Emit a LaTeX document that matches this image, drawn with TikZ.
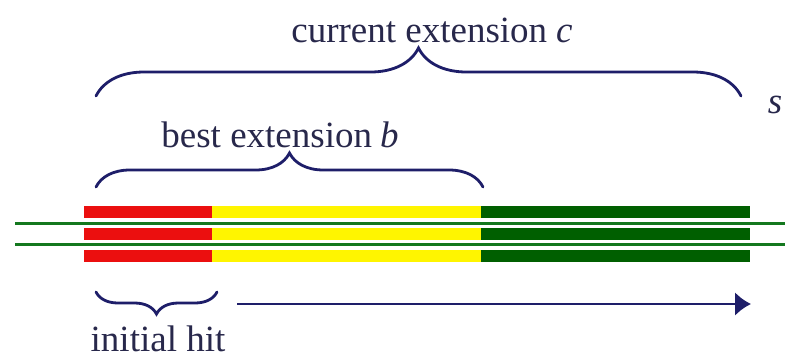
\documentclass[tikz,border=0pt]{standalone}
\usepackage{fontspec}
\setmainfont{Liberation Serif}
\usetikzlibrary{decorations.pathreplacing,arrows.meta}
\definecolor{navy}{RGB}{30,30,105}
\definecolor{txt}{RGB}{40,40,75}
\definecolor{hitred}{RGB}{235,15,15}
\definecolor{extyellow}{RGB}{255,245,0}
\definecolor{darkgr}{RGB}{0,95,0}
\definecolor{linegr}{RGB}{20,120,30}
\tikzset{
  lbl/.style={text=txt,font=\fontsize{37}{42}\selectfont,inner sep=0pt,anchor=base},
  bar/.style={draw=none,inner sep=0pt,minimum height=12pt},
  bracepath/.style={draw=navy,line width=2.8pt,line cap=round,decorate},
  seqline/.style={draw=linegr,line width=2.6pt},
}
\begin{document}
\begin{tikzpicture}[x=1pt,y=-1pt]
\useasboundingbox (0,0) rectangle (785,360);
\fill[white] (0,0) rectangle (785,360);
% bars
\foreach \yy/\n in {212/a,234/b,256/c}{
  \node[bar,fill=hitred,minimum width=128pt] (red\n) at (148,\yy) {};
  \node[bar,fill=extyellow,minimum width=269pt] (yel\n) at (346.5,\yy) {};
  \node[bar,fill=darkgr,minimum width=269pt] (grn\n) at (615.5,\yy) {};
}
% sequence lines
\coordinate (l1a) at (15,223.5);
\coordinate (l1b) at (785,223.5);
\coordinate (l2a) at (15,244.5);
\coordinate (l2b) at (785,244.5);
\draw[seqline] (l1a) -- (l1b);
\draw[seqline] (l2a) -- (l2b);
% braces
\coordinate (c1) at (96,96);
\coordinate (c2) at (741,96);
\draw[bracepath,decoration={brace,amplitude=48pt}] (c1) -- (c2);
\coordinate (b1) at (96,187);
\coordinate (b2) at (483,187);
\draw[bracepath,decoration={brace,amplitude=34pt}] (b1) -- (b2);
\coordinate (h1) at (96,292);
\coordinate (h2) at (217,292);
\draw[bracepath,decoration={brace,mirror,amplitude=22pt}] (h1) -- (h2);
% arrow
\coordinate (ar1) at (237,304);
\coordinate (ar2) at (751,304);
\draw[navy,line width=2.8pt,-{Latex[length=16pt,width=24pt]}] (ar1) -- (ar2);
% labels
\node[lbl] (cur) at (432,42) {current extension\hspace{9pt}\textit{c}};
\node[lbl] (best) at (280,147) {best extension\hspace{8pt}\textit{b}};
\node[lbl] (hit) at (158,351) {initial hit};
\node[lbl] (s) at (775,113) {\textit{s}};
\end{tikzpicture}
\end{document}
